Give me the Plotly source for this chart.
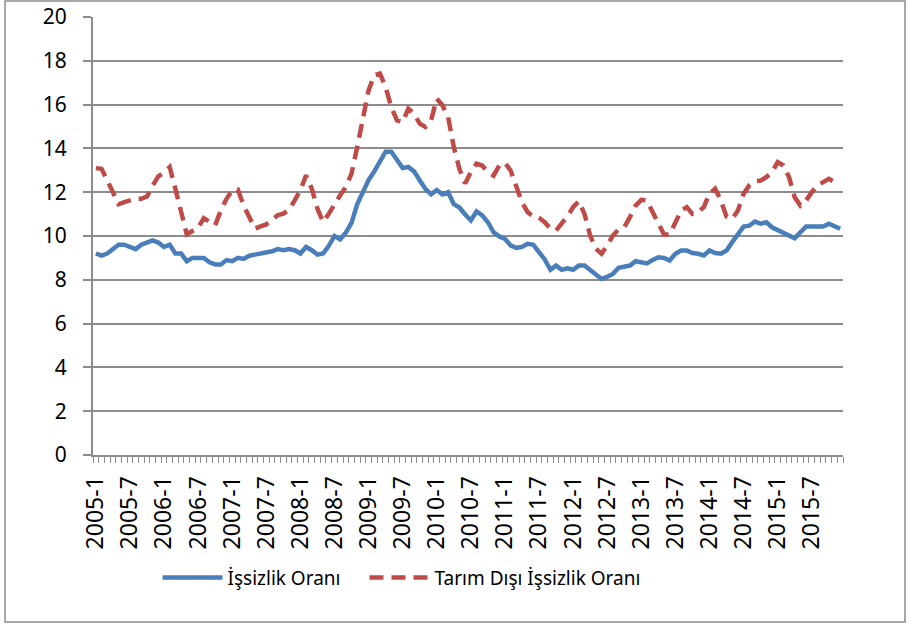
import plotly.graph_objects as go

years = list(range(2005, 2016))
months = [f"{y}-{m}" for y in years for m in range(1, 13)]
tick_labels = [lab if lab.endswith("-1") or lab.endswith("-7") else "" for lab in months]

issizlik = [
    9.2, 9.1, 9.2, 9.4, 9.6, 9.6, 9.5, 9.4, 9.6, 9.7, 9.8, 9.7,
    9.5, 9.6, 9.2, 9.2, 8.85, 9.0, 9.0, 9.0, 8.8, 8.7, 8.7, 8.9,
    8.85, 9.0, 8.95, 9.1, 9.15, 9.2, 9.2, 9.3, 9.4, 9.35, 9.4, 9.35,
    9.2, 9.5, 9.35, 9.15, 9.2, 9.55, 10.0, 9.85, 10.15, 10.6, 11.45, 12.0,
    12.55, 12.95, 13.45, 13.85, 13.85, 13.45, 13.1, 13.15, 12.95, 12.55, 12.15, 11.9,
    12.1, 11.9, 12.0, 11.45, 11.3, 10.98, 10.71, 11.12, 10.94, 10.63, 10.17, 9.98,
    9.87, 9.57, 9.46, 9.5, 9.64, 9.6, 9.26, 8.93, 8.46, 8.65, 8.46, 8.52,
    8.46, 8.65, 8.65, 8.46, 8.24, 8.04, 8.14, 8.27, 8.55, 8.58, 8.65, 8.85,
    8.78, 8.75, 8.91, 9.03, 9.0, 8.88, 9.19, 9.34, 9.34, 9.22, 9.19, 9.11,
    9.34, 9.22, 9.19, 9.34, 9.72, 10.1, 10.43, 10.47, 10.66, 10.56, 10.63, 10.4,
    10.28, 10.17, 10.05, 9.9, 10.17, 10.43, 10.43, 10.43, 10.43, 10.56, 10.43, 10.33,
]

tarim_disi = [
    13.1, 13.07, 12.55, 11.95, 11.45, 11.55, 11.63, 11.7, 11.7, 11.8, 12.3, 12.72,
    12.9, 13.15, 12.15, 11.15, 10.08, 10.23, 10.38, 10.82, 10.64, 10.49, 11.17, 11.7,
    12.09, 12.12, 11.4, 10.9, 10.34, 10.44, 10.53, 10.75, 10.95, 11.02, 11.2, 11.63,
    12.09, 12.77, 12.16, 11.25, 10.64, 11.02, 11.48, 11.86, 12.24, 12.85, 14.06, 15.28,
    16.65, 17.34, 17.42, 16.8, 15.89, 15.28, 15.2, 15.82, 15.59, 15.13, 14.98, 15.28,
    16.27, 15.97, 15.43, 14.06, 13.05, 12.4, 12.91, 13.3, 13.22, 12.91, 12.76, 13.22,
    13.34, 12.99, 12.3, 11.54, 11.09, 10.89, 10.83, 10.63, 10.33, 10.25, 10.58, 10.89,
    11.32, 11.59, 11.01, 10.02, 9.42, 9.19, 9.57, 10.02, 10.3, 10.4, 10.86, 11.39,
    11.65, 11.62, 11.09, 10.56, 10.07, 10.07, 10.63, 11.16, 11.32, 11.01, 11.09, 11.32,
    11.93, 12.16, 11.62, 10.89, 10.78, 11.16, 11.93, 12.31, 12.5, 12.53, 12.69, 12.91,
    13.37, 13.22, 12.69, 11.77, 11.39, 11.62, 12.0, 12.31, 12.46, 12.61, 12.46, 12.4,
]

y_ticks = list(range(0, 21, 2))

BLUE = "#4A7EBB"
RED = "#BE4B48"
GRID = "#8C8C8C"
FONT = "Noto Sans"

fig = go.Figure()
fig.add_trace(go.Scatter(
    x=months, y=issizlik, mode="lines", name="İşsizlik Oranı",
    line=dict(color=BLUE, width=4.5), legend="legend",
))
fig.add_trace(go.Scatter(
    x=months, y=tarim_disi, mode="lines", name="Tarım Dışı İşsizlik Oranı",
    line=dict(color=RED, width=4.5, dash="14px,8px"), legend="legend2",
))

legend_common = dict(
    orientation="h", xanchor="left", y=-0.28, yanchor="middle",
    font=dict(size=19, family=FONT), itemwidth=60,
    bgcolor="rgba(0,0,0,0)",
)

fig.update_layout(
    width=909, height=627,
    margin=dict(l=93, r=66, t=17, b=172, autoexpand=False),
    paper_bgcolor="white", plot_bgcolor="white",
    font=dict(family=FONT, color="black", size=20),
    showlegend=True,
    legend=dict(x=0.086, **legend_common),
    legend2=dict(x=0.362, **legend_common),
    xaxis=dict(
        type="category", categoryorder="array", categoryarray=months,
        tickmode="array", tickvals=months, ticktext=tick_labels,
        tickangle=-90, tickfont=dict(size=23, family=FONT),
        showgrid=False, showline=True, linecolor=GRID, linewidth=2,
        ticks="outside", ticklen=6, tickcolor=GRID, tickwidth=1, tickson="boundaries",
        range=[-0.5, len(months) - 0.5], zeroline=False, automargin=False,
        ticklabelstandoff=10,
    ),
    yaxis=dict(
        range=[0, 20], tickmode="array", tickvals=y_ticks,
        tickfont=dict(size=21, family=FONT),
        showgrid=True, gridcolor=GRID, gridwidth=2,
        showline=True, linecolor=GRID, linewidth=2,
        ticks="outside", ticklen=8, tickcolor=GRID, tickwidth=2,
        zeroline=False, automargin=False, ticklabelstandoff=12,
    ),
    shapes=[dict(
        type="rect", xref="paper", yref="paper",
        x0=-0.1173, x1=1.0827, y0=-0.381, y1=1.0365,
        line=dict(color=GRID, width=1.5), fillcolor="rgba(0,0,0,0)", layer="below",
    )],
)

fig.write_html(
    "out.html",
    config={"displayModeBar": False},
    post_script="document.body.style.margin='0';document.body.style.overflow='hidden';",
)
